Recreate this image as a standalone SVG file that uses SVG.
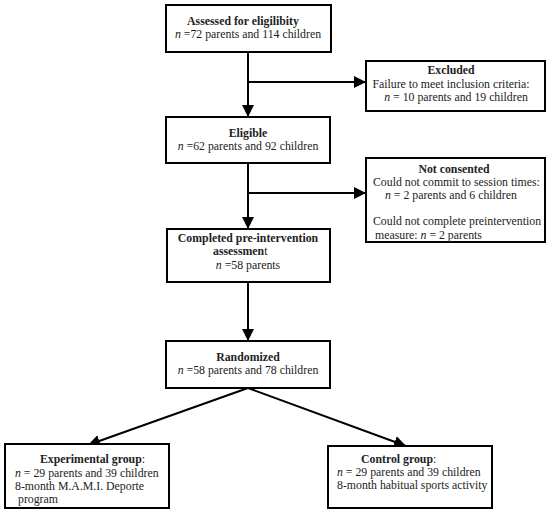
<svg xmlns="http://www.w3.org/2000/svg" width="550" height="514" viewBox="0 0 550 514">
<defs>
<marker id="arr" viewBox="0 0 10 10" refX="10" refY="5" markerWidth="12" markerHeight="12" markerUnits="userSpaceOnUse" orient="auto">
<path d="M0,0 L10,5 L0,10 Z" fill="#000"/>
</marker>
<style>
.box{fill:#fff;stroke:#000;stroke-width:2}
.t{font-family:"Liberation Serif","Times New Roman",serif;font-size:11.8px;fill:#222}
.b{font-weight:bold}
.c{text-anchor:middle}
.i{font-style:italic}
.ln{stroke:#000;stroke-width:2;fill:none}
</style>
</defs>
<rect width="550" height="514" fill="#fff"/>
<g id="connectors">
<line class="ln" x1="248" y1="52" x2="248" y2="117" marker-end="url(#arr)"/>
<line class="ln" x1="248" y1="82" x2="366" y2="82" marker-end="url(#arr)"/>
<line class="ln" x1="248" y1="163" x2="248" y2="229" marker-end="url(#arr)"/>
<line class="ln" x1="248" y1="193" x2="366" y2="193" marker-end="url(#arr)"/>
<line class="ln" x1="248" y1="282" x2="248" y2="341" marker-end="url(#arr)"/>
<line class="ln" x1="248" y1="388" x2="88" y2="445" marker-end="url(#arr)"/>
<line class="ln" x1="248" y1="388" x2="406" y2="446" marker-end="url(#arr)"/>
</g>
<g id="assessed">
<rect class="box" x="166" y="5" width="165" height="47"/>
<text class="t b c" x="243" y="25">Assessed for eligilibity</text>
<text class="t c" x="248" y="38"><tspan class="i">n</tspan> =72 parents and 114 children</text>
</g>
<g id="excluded">
<rect class="box" x="366" y="61" width="179" height="50"/>
<text class="t b c" x="451" y="74">Excluded</text>
<text class="t c" x="451" y="88">Failure to meet inclusion criteria:</text>
<text class="t c" x="456" y="101"><tspan class="i">n</tspan> = 10 parents and 19 children</text>
</g>
<g id="eligible">
<rect class="box" x="166" y="117" width="164" height="46"/>
<text class="t b c" x="248" y="137">Eligible</text>
<text class="t c" x="248" y="150"><tspan class="i">n</tspan> =62 parents and 92 children</text>
</g>
<g id="not-consented">
<rect class="box" x="366" y="158" width="179" height="84"/>
<text class="t b c" x="454" y="173">Not consented</text>
<text class="t" x="373" y="186">Could not commit to session times:</text>
<text class="t" x="385" y="199"><tspan class="i">n</tspan> = 2 parents and 6 children</text>
<text class="t" x="373" y="225">Could not complete preintervention</text>
<text class="t" x="375" y="239">measure: <tspan class="i">n</tspan> = 2 parents</text>
</g>
<g id="completed">
<rect class="box" x="167" y="229" width="163" height="53"/>
<text class="t b c" x="248" y="242">Completed pre-intervention</text>
<text class="t" x="213" y="255"><tspan class="b">assessmen</tspan>t</text>
<text class="t c" x="248" y="269"><tspan class="i">n</tspan> =58 parents</text>
</g>
<g id="randomized">
<rect class="box" x="166" y="341" width="164" height="47"/>
<text class="t b c" x="248" y="361">Randomized</text>
<text class="t c" x="248" y="374"><tspan class="i">n</tspan> =58 parents and 78 children</text>
</g>
<g id="experimental">
<rect class="box" x="5" y="444" width="164" height="64"/>
<text class="t" x="40" y="463"><tspan class="b">Experimental group</tspan>:</text>
<text class="t" x="15" y="477"><tspan class="i">n</tspan> = 29 parents and 39 children</text>
<text class="t" x="15" y="490">8-month M.A.M.I. Deporte</text>
<text class="t" x="18" y="503">program</text>
</g>
<g id="control">
<rect class="box" x="328" y="446" width="164" height="62"/>
<text class="t" x="361" y="463"><tspan class="b">Control group</tspan>:</text>
<text class="t" x="337" y="476"><tspan class="i">n</tspan> = 29 parents and 39 children</text>
<text class="t" x="337" y="489">8-month habitual sports activity</text>
</g>
</svg>
